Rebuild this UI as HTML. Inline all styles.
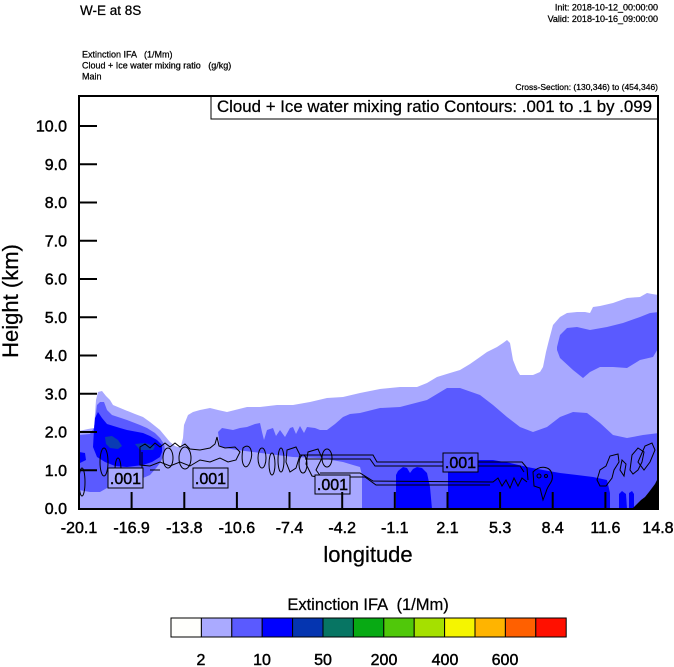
<!DOCTYPE html>
<html><head><meta charset="utf-8">
<style>
html,body{margin:0;padding:0;background:#fff;}
svg{display:block;}
text{font-family:"Liberation Sans",Arial,sans-serif;fill:#000;white-space:pre;}
.b{stroke:#000;stroke-width:0.45px;}
.s{stroke:#000;stroke-width:0.25px;}
</style></head>
<body>
<svg width="674" height="667" viewBox="0 0 674 667" xmlns="http://www.w3.org/2000/svg" xml:space="preserve">
<rect x="0" y="0" width="674" height="667" fill="#fff"/>

<!-- header -->
<text class="s" x="80" y="15" font-size="13.5">W-E at 8S</text>
<text class="s" x="658" y="10.5" font-size="9" text-anchor="end">Init: 2018-10-12_00:00:00</text>
<text class="s" x="658" y="22" font-size="9" text-anchor="end">Valid: 2018-10-16_09:00:00</text>
<text class="s" x="82" y="57.5" font-size="9">Extinction IFA   (1/Mm)</text>
<text class="s" x="82" y="68.5" font-size="9">Cloud + Ice water mixing ratio   (g/kg)</text>
<text class="s" x="82" y="79.5" font-size="9">Main</text>
<text class="s" x="658" y="90" font-size="8.5" text-anchor="end">Cross-Section: (130,346) to (454,346)</text>

<defs><clipPath id="pc"><rect x="79" y="96" width="579" height="413"/></clipPath></defs>
<g clip-path="url(#pc)">
<!-- light lavender -->
<polygon fill="#a8a8ff" points="79,431 88,429 94,428 96,400 98,392 102,391 106,396 110,400 113,405 125,410 135,414 143,417 150,422 160,430 165,436 170,442 175,446 178,447 181,446 183,438 184,425 188,415 193,412 200,410 210,408 218,410 227,412 235,410 247,407 260,407 277,405 293,405 310,402 327,398 343,397 360,393 380,389 400,387 417,387 427,383 437,377 450,373 460,370 470,364 480,357 487,352 497,347 503,343 507,340 510,343 513,360 517,370 520,375 533,375 540,372 543,367 546,352 549,340 553,325 560,317 567,313 577,312 585,312 590,313 593,307 600,306 613,303 627,298 640,297 647,293 652,294 659,295 659,509 79,509"/>
<!-- medium left -->
<polygon fill="#5a5aff" points="79,435 90,434 94,428 97,405 100,402 104,402 107,410 112,415 127,420 140,425 147,428 155,433 160,438 164,444 165,450 163,457 160,463 157,467 150,475 143,478 130,480 120,480 113,482 107,488 100,492 90,492 79,490"/>
<!-- blue left -->
<polygon fill="#0000ff" points="95,418 98,412 102,418 107,424 120,428 127,430 143,433 150,436 157,440 162,445 162,452 160,457 152,462 143,465 127,467 115,466 105,462 97,457 93,447 94,430"/>
<polygon fill="#0000ff" points="79,452 85,453 86,460 80,463 79,463"/>
<!-- dark blue -->
<polygon fill="#0a3cb4" points="105,437 112,436 118,440 122,446 118,449 110,448 106,444"/>
<polygon fill="#0a3cb4" points="135,444 145,443 155,446 153,450 140,450"/>
<!-- medium middle/right -->
<polygon fill="#5a5aff" points="218,432 222,428 233,430 240,428 247,427 255,424 260,423 262,432 264,440 267,430 273,428 276,436 280,430 285,437 290,428 293,427 296,434 300,426 304,433 307,427 315,428 320,430 327,430 335,424 343,417 350,414 360,413 380,408 400,407 427,400 447,388 460,388 480,395 493,405 507,417 520,427 533,432 547,427 560,417 573,412 587,413 600,423 613,435 627,438 643,435 659,433 659,509 362,509 362,475 360,467 353,465 343,462 320,458 293,457 237,450 220,447"/>
<!-- medium upper right blob -->
<polygon fill="#5a5aff" points="557,347 560,335 567,328 577,327 590,330 607,327 623,323 640,317 650,313 659,312 659,347 653,357 640,360 627,368 613,367 600,367 590,372 583,378 573,370 560,358 557,350"/>
<!-- blue bottom blobs -->
<polygon fill="#0000ff" points="396,509 396,475 398,471 403,467 407,468 410,473 413,469 417,467 422,468 427,473 430,487 432,509"/>
<polygon fill="#0000ff" points="448,509 448,467 453,462 460,460 470,460 493,460 510,463 527,467 543,470 560,473 577,475 593,477 607,480 610,493 610,509"/>
<polygon fill="#0000ff" points="619,509 619,494 622,491 626,494 627,509"/>
<polygon fill="#0000ff" points="629,509 629,493 632,491 634,494 634,509"/>
<!-- terrain -->
<polygon fill="#000" points="632,509 636,505 641,500 645,497 649,492 652,488 655,484 657,480 659,477 659,509"/>

<!-- contours -->
<g fill="none" stroke="#000" stroke-width="1">
<path d="M140,447 L145,444 L150,448 L155,443 L160,447 L165,443 L170,447 L175,443 L180,447 L185,444 L190,449 L200,450 L210,448 L215,444 L217,437 L219,446 L225,448 L235,447 L240,452 L236,460 L228,462 L220,458 L210,462 L200,460 L190,466 L180,462 L170,466 L160,462 L150,466 L140,465 Z"/>
<path d="M142,452 L142,470 M150,470 L160,470"/>
<ellipse cx="82" cy="482" rx="3" ry="14"/>
<ellipse cx="104" cy="462" rx="4" ry="14"/>
<ellipse cx="118" cy="470" rx="3" ry="12"/>
<ellipse cx="168" cy="458" rx="5" ry="10"/>
<ellipse cx="185" cy="458" rx="6" ry="11"/>
<path d="M243,448 C250,442 254,452 250,462 C246,472 240,466 243,448 Z"/>
<ellipse cx="262" cy="458" rx="4" ry="10"/>
<ellipse cx="272" cy="464" rx="3" ry="11"/>
<ellipse cx="281" cy="460" rx="3" ry="12"/>
<path d="M287,450 L296,447 L300,455 L296,468 L290,472 L286,462 Z"/>
<ellipse cx="303" cy="464" rx="4" ry="9"/>
<path d="M308,452 L318,449 L322,458 L316,470 L322,478 L312,476 L306,464 Z"/>
<ellipse cx="327" cy="458" rx="5" ry="9"/>
<path d="M300,455 L373,455 L377,462 L522,462 L527,468 L528,480"/>
<path d="M305,459 L370,459 L375,466 L520,466 L524,472"/>
<path d="M320,473 L360,473 L373,481 L493,482 L498,478 L502,486 L506,480 L510,488 L514,478 L518,486 L522,478 L527,482"/>
<path d="M325,477 L365,477 L376,485 L490,485"/>
<path d="M533,472 C540,465 550,466 552,474 C554,482 548,484 546,492 L543,500 L540,488 L534,486 Z"/>
<circle cx="539" cy="476" r="2"/>
<circle cx="546" cy="476" r="1.5"/>
<path d="M597,480 L600,470 L606,466 L610,456 L618,454 L619,462 L614,470 L612,478 L606,486 L600,486 Z"/>
<path d="M620,470 L622,460 L626,464 L624,476 Z"/>
<path d="M630,470 L632,455 L638,448 L644,452 L642,462 L638,470 L633,474 Z"/>
<path d="M638,462 L645,446 L652,443 L655,450 L650,462 L644,470 Z"/>
</g>

<!-- contour labels -->
<g font-size="16">
<rect x="108" y="468" width="35" height="20" fill="#a8a8ff" stroke="#000" stroke-width="1"/>
<text class="b" x="125.5" y="484" text-anchor="middle">.001</text>
<rect x="193" y="468" width="35" height="20" fill="#a8a8ff" stroke="#000" stroke-width="1"/>
<text class="b" x="210.5" y="484" text-anchor="middle">.001</text>
<rect x="315" y="475" width="35" height="19" fill="#a8a8ff" stroke="#000" stroke-width="1"/>
<text class="b" x="332.5" y="490" text-anchor="middle">.001</text>
<rect x="443" y="453" width="35" height="19" fill="#5a5aff" stroke="#000" stroke-width="1"/>
<text class="b" x="460.5" y="468" text-anchor="middle">.001</text>
</g>
</g>

<!-- legend box -->
<rect x="211" y="96" width="447" height="23" fill="#fff" stroke="#000" stroke-width="1"/>
<text class="s" x="217" y="112" font-size="16.8" textLength="435" lengthAdjust="spacingAndGlyphs">Cloud + Ice water mixing ratio Contours: .001 to .1 by .099</text>

<!-- frame -->
<rect x="79" y="96" width="579" height="413" fill="none" stroke="#000" stroke-width="2"/>

<!-- ticks -->
<g stroke="#000" stroke-width="2">
<line x1="79" y1="470.25" x2="97" y2="470.25"/>
<line x1="79" y1="432" x2="97" y2="432"/>
<line x1="79" y1="393.75" x2="97" y2="393.75"/>
<line x1="79" y1="355.5" x2="97" y2="355.5"/>
<line x1="79" y1="317.25" x2="97" y2="317.25"/>
<line x1="79" y1="279" x2="97" y2="279"/>
<line x1="79" y1="240.75" x2="97" y2="240.75"/>
<line x1="79" y1="202.5" x2="97" y2="202.5"/>
<line x1="79" y1="164.25" x2="97" y2="164.25"/>
<line x1="79" y1="126" x2="97" y2="126"/>
<line x1="131.6" y1="509" x2="131.6" y2="492"/>
<line x1="184.3" y1="509" x2="184.3" y2="492"/>
<line x1="236.9" y1="509" x2="236.9" y2="492"/>
<line x1="289.5" y1="509" x2="289.5" y2="492"/>
<line x1="342.2" y1="509" x2="342.2" y2="492"/>
<line x1="394.8" y1="509" x2="394.8" y2="492"/>
<line x1="447.5" y1="509" x2="447.5" y2="492"/>
<line x1="500.1" y1="509" x2="500.1" y2="492"/>
<line x1="552.7" y1="509" x2="552.7" y2="492"/>
<line x1="605.4" y1="509" x2="605.4" y2="492"/>
</g>

<!-- y labels -->
<g font-size="16" text-anchor="end" class="b">
<text x="67" y="514">0.0</text>
<text x="67" y="475.75">1.0</text>
<text x="67" y="437.5">2.0</text>
<text x="67" y="399.25">3.0</text>
<text x="67" y="361">4.0</text>
<text x="67" y="322.75">5.0</text>
<text x="67" y="284.5">6.0</text>
<text x="67" y="246.25">7.0</text>
<text x="67" y="208">8.0</text>
<text x="67" y="169.75">9.0</text>
<text x="67" y="131.5">10.0</text>
</g>
<!-- x labels -->
<g font-size="16" text-anchor="middle" class="b">
<text x="79" y="533">-20.1</text>
<text x="131.6" y="533">-16.9</text>
<text x="184.3" y="533">-13.8</text>
<text x="236.9" y="533">-10.6</text>
<text x="289.5" y="533">-7.4</text>
<text x="342.2" y="533">-4.2</text>
<text x="394.8" y="533">-1.1</text>
<text x="447.5" y="533">2.1</text>
<text x="500.1" y="533">5.3</text>
<text x="552.7" y="533">8.4</text>
<text x="605.4" y="533">11.6</text>
<text x="658" y="533">14.8</text>
</g>

<text class="s" x="368" y="562" font-size="22" text-anchor="middle">longitude</text>
<text class="s" transform="translate(18,301) rotate(-90)" font-size="22" text-anchor="middle">Height (km)</text>

<!-- colorbar -->
<text class="s" x="368" y="610" font-size="16.5" text-anchor="middle">Extinction IFA  (1/Mm)</text>
<g stroke="#000" stroke-width="1">
<rect x="171" y="618" width="30.4" height="19" fill="#fffffc"/>
<rect x="201.4" y="618" width="30.4" height="19" fill="#aaaaff"/>
<rect x="231.8" y="618" width="30.4" height="19" fill="#5a5aff"/>
<rect x="262.2" y="618" width="30.4" height="19" fill="#0000ff"/>
<rect x="292.6" y="618" width="30.4" height="19" fill="#0535b0"/>
<rect x="323" y="618" width="30.4" height="19" fill="#077563"/>
<rect x="353.4" y="618" width="30.4" height="19" fill="#08aa14"/>
<rect x="383.8" y="618" width="30.4" height="19" fill="#50c80a"/>
<rect x="414.2" y="618" width="30.4" height="19" fill="#a5e000"/>
<rect x="444.6" y="618" width="30.4" height="19" fill="#f5f500"/>
<rect x="475" y="618" width="30.4" height="19" fill="#ffb400"/>
<rect x="505.4" y="618" width="30.4" height="19" fill="#ff6000"/>
<rect x="535.8" y="618" width="30.4" height="19" fill="#ff1000"/>
</g>
<g font-size="16" text-anchor="middle" class="b">
<text x="201" y="665">2</text>
<text x="262" y="665">10</text>
<text x="323" y="665">50</text>
<text x="384" y="665">200</text>
<text x="445" y="665">400</text>
<text x="505" y="665">600</text>
</g>
</svg>
</body></html>
